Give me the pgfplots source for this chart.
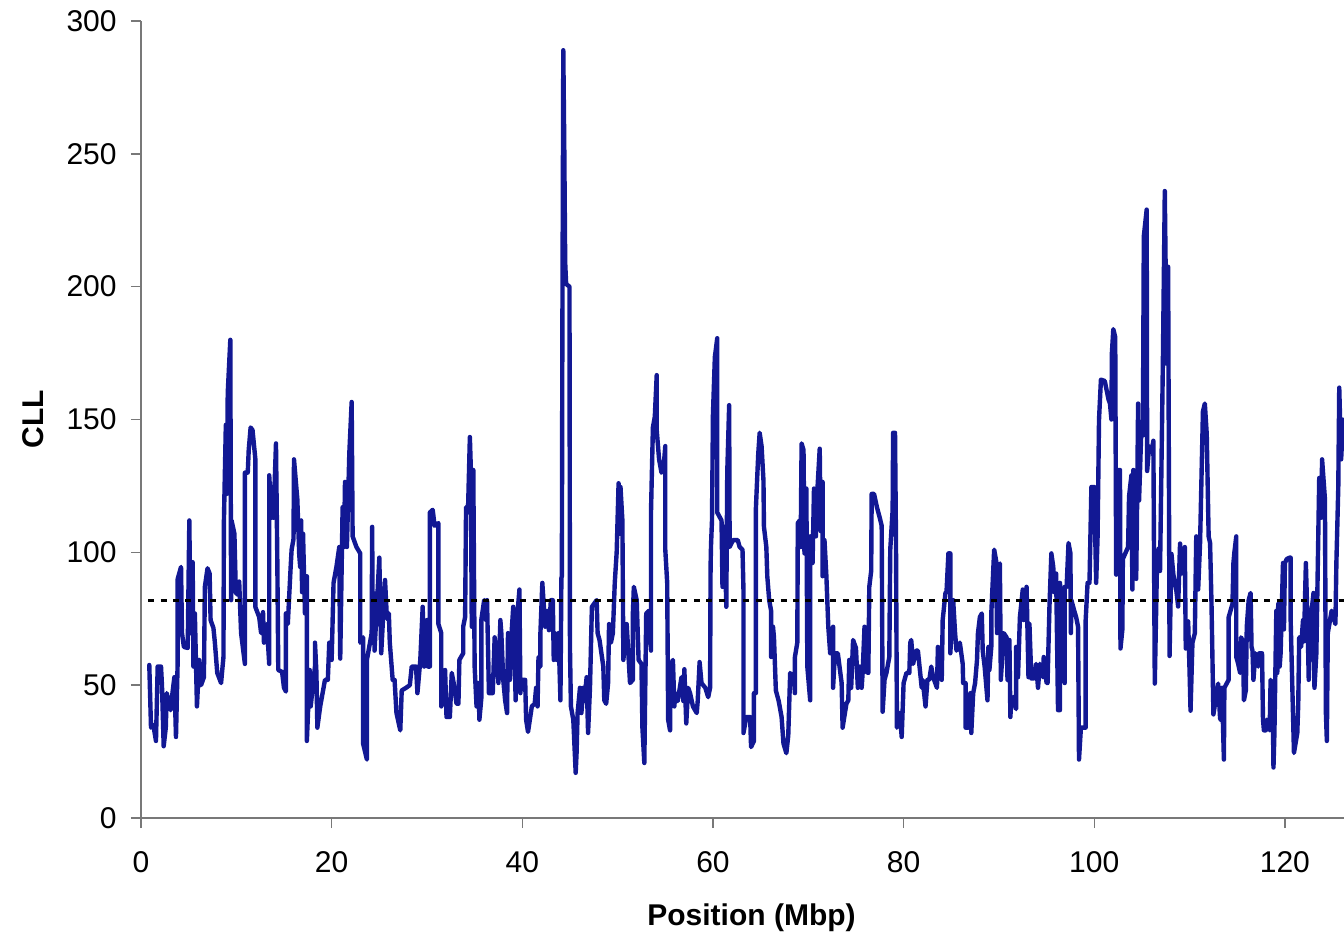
\documentclass[border=0pt]{standalone}
\usepackage{pgfplots}
\pgfplotsset{compat=1.18}
\usepackage{fontspec}
\setmainfont{Liberation Sans}
\definecolor{cllblue}{RGB}{18,24,148}
\definecolor{axgray}{RGB}{120,120,120}
\begin{document}
\begin{tikzpicture}
\begin{axis}[name=ax, at={(0,0)}, anchor=south west,
 scale only axis, width=601.5bp, height=398.5bp,
 xmin=0, xmax=126.2, ymin=0, ymax=300,
 axis x line=bottom, axis y line=left,
 axis line style={-, draw=axgray, line width=0.7bp},
 xtick={0,20,...,120}, ytick={0,50,...,300},
 tick align=outside, major tick length=5bp,
 tick style={draw=axgray, line width=0.7bp},
 /pgf/number format/assume math mode=true,
 ticklabel style={font=\fontsize{15bp}{18bp}\selectfont, inner sep=0pt},
 xticklabel style={anchor=north, yshift=-11.6bp},
 yticklabel style={anchor=east, xshift=-7bp},
 clip=true,
]
\addplot[cllblue, line width=2.2bp, line join=round, line cap=round, mark=none] coordinates {
(0.87,57.6) (1.05,34) (1.3,35) (1.57,29) (1.75,57) (2.1,57) (2.2,50) (2.38,27) (2.6,34) (2.7,47)
(3.1,40.6) (3.3,47) (3.5,53) (3.67,30.5) (3.85,59.5) (3.85,90) (4.2,94.5) (4.3,69.6) (4.5,64.4) (4.9,64)
(5.07,112) (5.2,69.6) (5.42,96.3) (5.5,57) (5.65,77) (5.87,42) (6.1,59.5) (6.3,50) (6.6,53) (6.7,87)
(6.98,94) (7.2,92) (7.3,74.5) (7.6,71.5) (7.75,66) (8.0,54.6) (8.4,50.8) (8.65,60.6) (8.7,112) (8.9,148)
(9.0,122) (9.1,160) (9.37,180) (9.45,82) (9.5,112) (9.8,107) (9.95,84.7) (10.2,84) (10.3,89) (10.5,69.6)
(10.9,58) (10.9,130) (11.2,130) (11.3,138.5) (11.5,147) (11.7,146) (12.0,135) (12.0,79.4) (12.4,75.6) (12.6,69.6)
(12.8,77.5) (12.9,66) (13.2,73) (13.45,58) (13.45,129) (13.7,113) (13.8,124.6) (13.9,113) (14.16,141) (14.3,97)
(14.4,55.7) (14.8,55) (15.0,49) (15.2,47.6) (15.2,77) (15.4,73) (15.7,94.5) (15.8,101) (16.0,105) (16.05,135)
(16.4,120) (16.6,99) (16.7,94.5) (16.8,112) (16.9,85) (17.0,107) (17.2,77) (17.4,91) (17.4,29) (17.7,55.7)
(17.8,42) (18.25,57) (18.25,66) (18.4,55) (18.5,34) (18.8,42) (19.3,52) (19.6,52) (19.75,66) (20.0,59.5)
(20.2,88.5) (20.5,94.5) (20.8,102) (20.85,77) (20.9,60) (21.15,117) (21.3,102) (21.4,126.5) (21.6,102) (21.85,137)
(22.1,156.6) (22.2,106) (22.6,102) (23.0,99.6) (23.0,66) (23.3,68) (23.3,28) (23.7,22) (23.7,59.5) (24.2,69.6)
(24.25,109.6) (24.3,77.4) (24.4,84.7) (24.5,63) (25.0,98) (25.2,62) (25.6,89.6) (25.8,75) (26.0,77) (26.1,66)
(26.4,52) (26.6,52) (26.8,39.5) (27.2,33) (27.35,48) (27.8,49) (28.2,50) (28.4,57) (28.85,57) (29.0,47)
(29.3,59.5) (29.55,79.5) (29.7,57) (30.0,74.5) (30.1,57) (30.3,57) (30.3,115) (30.6,116) (30.8,110) (31.2,111)
(31.2,73) (31.5,69.6) (31.5,42) (31.9,55.7) (32.05,38) (32.4,38) (32.6,54.6) (32.8,50.8) (33.1,43) (33.3,43)
(33.4,59.5) (33.8,62) (33.8,72) (34.0,75.6) (34.1,117) (34.3,115) (34.5,143.4) (34.6,131.5) (34.7,72) (34.86,131)
(35.0,57) (35.2,42) (35.4,50.8) (35.5,37) (35.7,45) (35.7,74.5) (36.0,82) (36.2,74.5) (36.3,82) (36.5,47)
(36.9,47) (37.1,68) (37.3,62) (37.5,50.8) (37.7,74.5) (37.8,69.6) (38.0,52) (38.2,44.3) (38.4,39.5) (38.5,69.6)
(38.7,52) (38.9,71) (39.05,79.5) (39.2,62) (39.3,44.3) (39.35,71) (39.7,86) (39.8,47) (39.9,52) (40.3,52)
(40.4,37) (40.6,32.4) (41.0,42) (41.3,43) (41.45,49) (41.6,42) (41.7,60.6) (41.9,57) (41.9,69.6) (42.1,88.5)
(42.4,72) (42.6,78) (42.8,70.7) (43.0,82) (43.2,82) (43.3,59.5) (43.4,69.6) (43.6,59.5) (43.8,69.6) (44.0,44.3)
(44.1,90.3) (44.15,91) (44.2,179) (44.3,289) (44.4,254) (44.5,209) (44.6,201) (44.95,200) (45.0,64) (45.1,42)
(45.35,37) (45.6,17) (45.7,25) (45.8,39.5) (46.05,49) (46.2,39.5) (46.4,49) (46.5,44) (46.75,53) (46.9,32)
(47.1,49) (47.3,79.5) (47.8,82) (47.9,69.6) (48.1,67) (48.5,57) (48.6,44.3) (48.8,43) (49.0,50.8) (49.1,73)
(49.3,66) (49.5,69.6) (49.7,88.5) (49.9,100) (50.1,126) (50.25,107) (50.3,124.6) (50.5,112) (50.6,59.5) (50.95,73)
(51.3,50.8) (51.6,52) (51.6,77) (51.7,87) (52.0,82) (52.2,59.5) (52.5,58) (52.6,34) (52.8,20.7) (52.9,49)
(53.0,77) (53.3,78) (53.5,63) (53.5,115) (53.7,147) (53.9,151) (54.1,166.7) (54.1,146) (54.35,135) (54.6,130)
(54.8,131) (55.0,140) (55.0,101) (55.2,88.5) (55.3,37) (55.5,33) (55.5,57) (55.8,59.5) (55.95,42) (56.05,47)
(56.3,44) (56.7,53) (56.9,44) (57.0,56) (57.2,35.6) (57.4,49) (57.6,47) (57.9,42) (58.3,39.5) (58.4,44)
(58.6,58.7) (58.8,50.8) (59.2,49) (59.5,45.5) (59.7,49) (59.75,94.5) (59.8,103) (59.9,112) (60.0,152) (60.2,173.5)
(60.45,180.6) (60.45,115) (60.9,112) (61.0,87) (61.2,109.6) (61.4,79.5) (61.5,130) (61.7,155.4) (61.75,102) (62.1,104.6)
(62.6,104.6) (62.8,102) (63.1,101) (63.2,86) (63.2,32) (63.5,38) (63.9,38) (64.0,26.7) (64.3,29) (64.3,47)
(64.5,47) (64.5,116) (64.6,124.6) (64.75,137) (64.9,145) (65.1,140) (65.3,127) (65.35,109.6) (65.6,102) (65.7,91)
(65.9,82) (66.1,78) (66.1,60.6) (66.3,72) (66.4,68) (66.6,48) (66.9,44) (67.2,38) (67.4,28) (67.7,24.4)
(67.9,31) (68.1,54.6) (68.5,52) (68.6,47) (68.6,60.6) (68.85,66) (68.9,111) (69.1,112) (69.2,102) (69.3,141)
(69.5,138.5) (69.6,99.6) (69.8,124) (69.9,57) (70.2,44.3) (70.2,106) (70.45,96) (70.6,124) (70.8,106) (70.9,120)
(71.2,139) (71.3,108) (71.5,126.5) (71.5,91) (71.7,104.6) (71.9,91) (72.1,72) (72.3,62) (72.6,72) (72.6,49)
(72.8,62) (73.1,62) (73.5,50.8) (73.6,34) (74.0,43) (74.2,44.3) (74.3,59.5) (74.5,49) (74.7,67) (75.0,64)
(75.2,49) (75.4,57) (75.6,49) (75.7,54.6) (75.9,72) (76.1,55) (76.3,54.6) (76.4,87) (76.6,93) (76.65,122)
(76.9,122) (77.2,117) (77.5,113) (77.7,110) (77.8,40) (78.0,52) (78.2,54.6) (78.5,60.6) (78.6,101) (78.85,116)
(78.9,145) (79.1,145) (79.2,104.6) (79.3,34) (79.6,39.5) (79.8,30.5) (80.0,50.8) (80.3,54.6) (80.6,54.6) (80.7,66)
(80.8,67) (81.0,58) (81.3,63) (81.5,63) (81.9,49) (82.0,52) (82.3,42) (82.5,52) (82.7,52) (82.9,57)
(83.1,53) (83.5,49) (83.6,64.4) (83.8,57) (84.0,52) (84.1,74.5) (84.4,85) (84.5,85) (84.7,99.6) (84.9,99.6)
(84.9,62) (85.2,82) (85.4,69.6) (85.55,63) (85.9,66) (86.2,58) (86.25,50.8) (86.5,50.8) (86.5,34) (86.8,34)
(87.0,47) (87.1,32) (87.3,47) (87.5,50.8) (87.7,59.5) (87.8,69.6) (88.0,75.6) (88.2,77) (88.3,63) (88.5,57)
(88.8,44.3) (88.9,64.4) (89.0,55.7) (89.2,64.4) (89.2,77) (89.5,101) (89.7,97) (89.8,69.6) (89.9,94.5) (90.1,95.8)
(90.2,52) (90.5,69.6) (90.8,68) (90.9,52) (91.1,67) (91.2,38) (91.3,44.3) (91.5,45.5) (91.8,41) (91.8,64.4)
(92.0,53) (92.2,75.6) (92.5,86) (92.6,74.5) (92.9,87) (93.1,53) (93.2,73) (93.4,52.5) (93.7,52.5) (93.9,58)
(94.1,49) (94.3,58) (94.6,53) (94.7,60.6) (95.0,50.8) (95.1,50.8) (95.3,79.5) (95.5,99.6) (95.7,94.5) (95.8,85)
(96.0,92) (96.2,40.6) (96.4,40.6) (96.4,88.5) (96.6,78) (96.9,50.8) (96.9,87) (97.1,87) (97.3,103.5) (97.5,99.6)
(97.55,69.6) (97.6,82) (97.9,78) (98.1,75.6) (98.3,72) (98.4,22) (98.6,34) (99.1,34) (99.1,74.5) (99.3,88.5)
(99.5,88.5) (99.7,124.6) (100.0,124.6) (100.2,88.5) (100.35,106) (100.5,150) (100.7,165) (101.1,164.5) (101.5,157.5) (101.65,156)
(101.8,150) (101.85,175) (102.0,184) (102.2,181) (102.3,91.6) (102.4,97) (102.55,131) (102.7,131) (102.75,63.8) (102.95,71)
(103.0,97.5) (103.55,102) (103.65,121) (103.9,129) (104.0,86) (104.1,131) (104.4,90) (104.5,119.5) (104.6,156) (104.7,119.5)
(104.95,147.5) (105.1,144) (105.2,219) (105.5,229) (105.55,130.6) (105.75,140) (106.0,137.6) (106.2,142) (106.35,50.6) (106.6,99)
(106.8,101.7) (106.9,93) (107.2,172) (107.4,236) (107.6,171) (107.75,207.5) (107.9,61) (108.1,99.4) (108.3,91.6) (108.6,86)
(108.8,79.6) (109.0,103.3) (109.15,92) (109.5,102) (109.6,63.8) (109.85,74) (110.0,55) (110.1,40.4) (110.3,66) (110.55,69.5)
(110.7,106) (110.9,86) (111.1,103.5) (111.4,153) (111.6,156) (111.8,144.5) (112.0,106) (112.15,103.5) (112.3,80.6) (112.5,39)
(112.8,46) (113.0,50.6) (113.2,37.5) (113.3,36.8) (113.4,49) (113.6,22) (113.65,49) (114.1,52) (114.1,75.6) (114.5,80.6)
(114.6,96) (114.7,100) (114.9,106) (114.9,60.6) (115.1,58) (115.3,54.6) (115.4,68) (115.6,66.5) (115.7,44.3) (115.9,48)
(116.0,72) (116.2,82) (116.4,84.7) (116.5,64.4) (116.6,63) (116.7,52) (116.9,62) (117.2,57) (117.3,62) (117.6,62)
(117.7,37) (117.8,33) (118.0,33) (118.1,37) (118.4,33) (118.5,52) (118.7,49) (118.8,19) (118.9,32) (119.1,78)
(119.2,54.6) (119.3,80.6) (119.45,57) (119.55,62) (119.8,96) (119.9,71) (120.0,96) (120.2,97.5) (120.5,98) (120.6,98)
(120.6,75) (120.95,24.5) (121.3,32) (121.4,43) (121.5,68) (121.7,64.4) (121.9,74.5) (122.0,66.5) (122.2,96) (122.4,69.6)
(122.5,52) (122.7,74.5) (123.0,84.7) (123.1,49) (123.3,62) (123.6,128) (123.8,113) (123.9,135) (124.2,120) (124.3,39.5)
(124.4,29) (124.5,69.6) (124.9,78) (125.3,73) (125.4,96) (125.6,124.6) (125.7,162) (125.9,135) (126.1,150) (126.5,145)
};
\addplot[black, line width=1.5bp, dash pattern=on 3bp off 3.2bp, mark=none] coordinates {(0.75,82) (126.2,82)};
\end{axis}
\node[rotate=90, anchor=base, font=\fontsize{15bp}{18bp}\selectfont\bfseries] at ([xshift=-49bp]ax.west) {CLL};
\node[anchor=base, font=\fontsize{15bp}{18bp}\selectfont\bfseries] at ([xshift=4.5bp, yshift=-53.5bp]ax.south) {Position (Mbp)};
\pgfresetboundingbox
\path ([shift={(-70.5bp,-60bp)}]ax.south west) rectangle ([yshift=10.5bp]ax.north east);
\end{tikzpicture}
\end{document}
